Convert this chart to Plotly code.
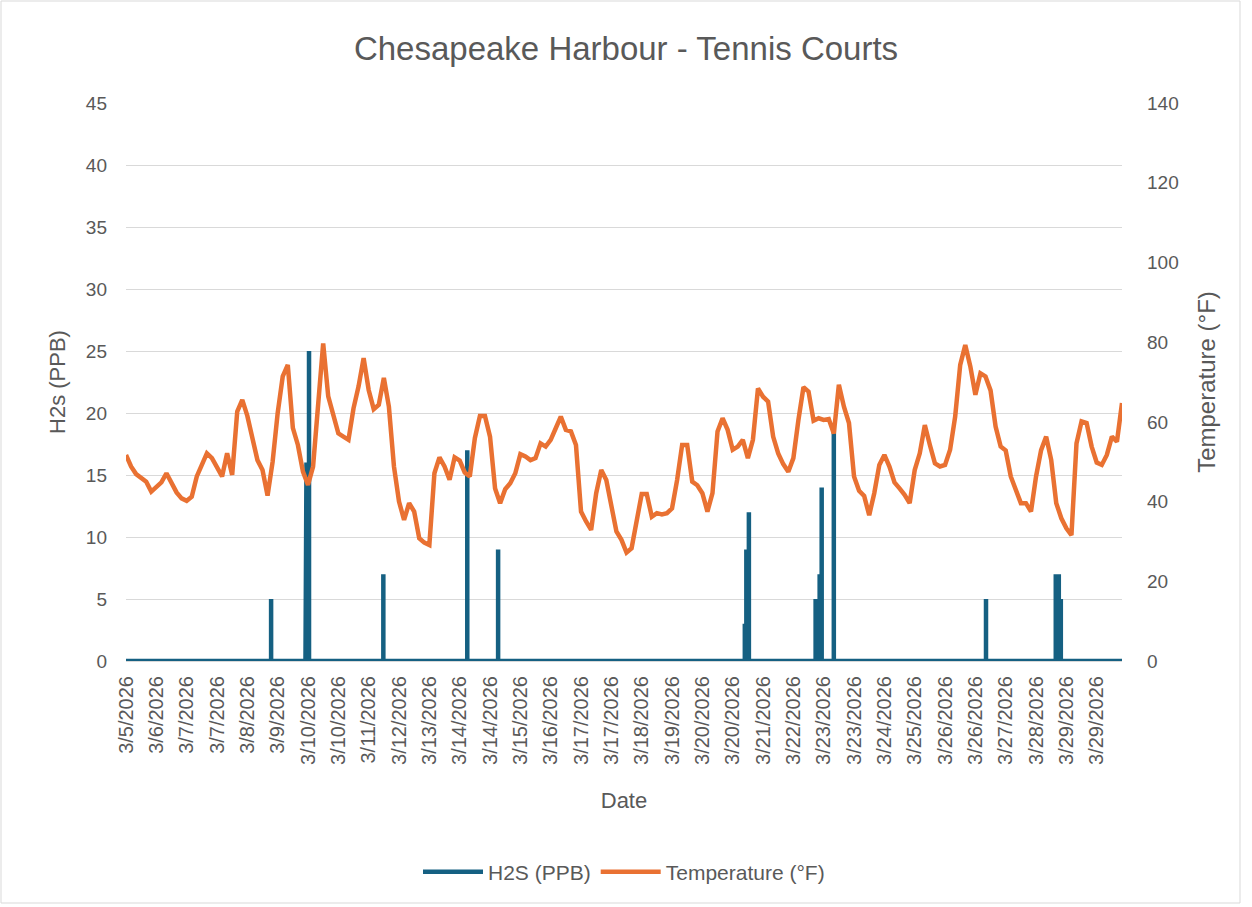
import plotly.graph_objects as go

# ---------------- data ----------------
date_labels = ["3/5/2026", "3/6/2026", "3/7/2026", "3/7/2026", "3/8/2026", "3/9/2026",
               "3/10/2026", "3/10/2026", "3/11/2026", "3/12/2026", "3/13/2026", "3/14/2026",
               "3/14/2026", "3/15/2026", "3/16/2026", "3/17/2026", "3/17/2026", "3/18/2026",
               "3/19/2026", "3/20/2026", "3/20/2026", "3/21/2026", "3/22/2026", "3/23/2026",
               "3/23/2026", "3/24/2026", "3/25/2026", "3/26/2026", "3/26/2026", "3/27/2026",
               "3/28/2026", "3/29/2026", "3/29/2026"]

temperature_f = [
    51.7, 48.8, 46.9, 45.8, 45.0, 42.5, 43.6, 44.8, 47.1, 44.6,
    42.3, 40.8, 40.2, 41.2, 46.3, 49.2, 52.1, 50.9, 48.6, 46.3,
    52.1, 46.7, 62.6, 65.5, 61.5, 55.8, 50.4, 47.9, 41.5, 50.0,
    62.2, 71.4, 74.3, 58.5, 54.2, 47.5, 44.2, 48.8, 64.7, 79.7,
    66.4, 61.2, 57.1, 56.3, 55.5, 63.4, 68.9, 76.0, 68.0, 63.2,
    64.3, 71.0, 63.8, 48.8, 40.0, 35.4, 39.6, 37.5, 30.8, 29.7,
    29.1, 47.1, 51.1, 48.8, 45.5, 51.1, 50.3, 47.3, 46.3, 55.9,
    61.5, 61.5, 56.3, 43.3, 39.6, 43.1, 44.6, 47.1, 51.9, 51.3,
    50.4, 50.9, 54.6, 53.8, 55.5, 58.4, 61.3, 58.0, 57.6, 54.2,
    37.5, 35.0, 32.9, 42.1, 47.9, 45.4, 39.1, 32.5, 30.4, 27.2,
    28.3, 35.4, 41.9, 41.9, 36.2, 37.1, 36.8, 37.1, 38.3, 45.4,
    54.2, 54.2, 45.0, 44.1, 42.1, 37.5, 42.1, 57.6, 60.9, 58.0,
    53.0, 53.8, 55.5, 50.9, 55.5, 68.4, 66.3, 65.1, 56.3, 52.1,
    49.4, 47.5, 50.9, 60.5, 68.7, 67.6, 60.3, 60.9, 60.5, 60.7,
    57.1, 69.3, 63.8, 59.7, 46.3, 42.7, 41.4, 36.6, 42.1, 49.2,
    51.7, 48.8, 44.8, 43.3, 41.7, 39.6, 47.9, 52.1, 59.2, 54.2,
    49.6, 48.8, 49.2, 53.0, 61.3, 74.3, 79.3, 73.9, 66.8, 72.2,
    71.4, 67.9, 58.8, 53.8, 52.8, 46.3, 42.9, 39.6, 39.6, 37.5,
    46.3, 52.9, 56.3, 50.4, 39.6, 35.8, 33.3, 31.6, 54.6, 60.1,
    59.7, 53.8, 49.8, 49.2, 51.7, 56.3, 55.0, 64.7,
]

# H2S readings (non-zero events; all other readings are 0), position in sample index units
h2s_pos = [28.7, 35.5, 35.7, 36.2, 50.9, 67.5, 73.6, 122.4, 122.7, 123.2,
           136.4, 136.8, 137.2, 137.6, 140.0, 170.1, 183.9, 184.5, 184.9]
h2s_ppb = [5, 5, 16, 25, 7, 17, 9, 3, 9, 12,
           5, 5, 7, 14, 19, 5, 7, 7, 5]

SAMPLES_PER_LABEL = 6

# ---------------- build series ----------------
n = len(temperature_f)
temp_x = list(range(n))
last = n - 1

h2s_x = [0]
h2s_y = [0]
for p, v in zip(h2s_pos, h2s_ppb):
    h2s_x += [p, p, p]
    h2s_y += [0, v, 0]
h2s_x.append(last)
h2s_y.append(0)

tick_vals = [i * SAMPLES_PER_LABEL for i in range(len(date_labels))]

BLUE = "#156082"
ORANGE = "#E97132"
GREY = "#595959"
GRID = "#D9D9D9"
FONT = "Liberation Sans, Arial, sans-serif"

fig = go.Figure()
fig.add_trace(go.Scatter(x=h2s_x, y=h2s_y, mode="lines", name="H2S (PPB)",
                         line=dict(color=BLUE, width=4.5), yaxis="y"))
fig.add_trace(go.Scatter(x=temp_x, y=temperature_f, mode="lines", name="Temperature (°F)",
                         line=dict(color=ORANGE, width=4.5), yaxis="y2"))

W, H = 1252, 907
L, R, T, B = 126, 130, 103, 246
ph = H - T - B

fig.update_layout(
    width=W, height=H,
    margin=dict(l=L, r=R, t=T, b=B, autoexpand=False),
    paper_bgcolor="white", plot_bgcolor="white",
    font=dict(family=FONT, color=GREY, size=19),
    title=dict(text="Chesapeake Harbour - Tennis Courts", x=0.5, xanchor="center",
               y=1 - 48 / H, yanchor="middle", yref="container",
               font=dict(size=33, color=GREY, family=FONT)),
    xaxis=dict(range=[0, last], tickmode="array", tickvals=tick_vals, ticktext=date_labels,
               tickangle=-90, tickfont=dict(size=20, color=GREY), showgrid=False,
               zeroline=False, showline=True, linecolor=GRID, linewidth=1,
               ticks="", ticklabelstandoff=6,
               title=dict(text="Date", font=dict(size=22, color=GREY), standoff=28)),
    yaxis=dict(range=[0, 45], dtick=5, tick0=0, showgrid=True, gridcolor=GRID, gridwidth=1.3,
               zeroline=False, showline=False, ticks="", tickfont=dict(size=19, color=GREY),
               ticklabelstandoff=18,
               title=dict(text="H2s (PPB)", font=dict(size=22, color=GREY), standoff=14)),
    yaxis2=dict(range=[0, 140], dtick=20, tick0=0, overlaying="y", side="right",
                showgrid=False, zeroline=False, showline=False, ticks="",
                tickfont=dict(size=19, color=GREY), ticklabelstandoff=24,
                title=dict(text="Temperature (°F)", font=dict(size=24, color=GREY), standoff=20)),
    legend=dict(orientation="h", x=0.5, xanchor="center", y=-(872 - (H - B)) / ph,
                yanchor="middle", font=dict(size=21, color=GREY), bgcolor="rgba(0,0,0,0)",
                itemwidth=60, traceorder="normal"),
    showlegend=True,
)

# light chart border
fig.add_shape(type="rect", xref="paper", yref="paper",
              x0=(1 - L) / (W - L - R), x1=(1240 - L) / (W - L - R),
              y0=((H - B) - 903) / ph, y1=((H - B) - 1) / ph,
              line=dict(color=GRID, width=1), fillcolor="rgba(0,0,0,0)", layer="below")

fig.write_html("out.html", config={"displayModeBar": False},
               post_script="document.body.style.margin='0';document.body.style.overflow='hidden';")
